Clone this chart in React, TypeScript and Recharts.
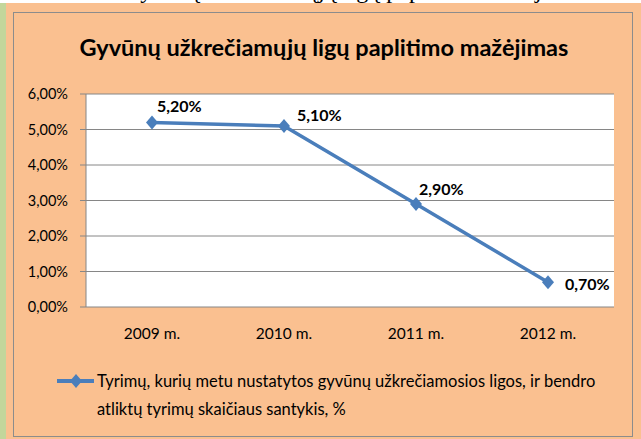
import { LineChart, Line, XAxis, YAxis, CartesianGrid, LabelList, Legend } from 'recharts'

const title = 'Gyvūnų užkrečiamųjų ligų paplitimo mažėjimas'
const seriesName =
  'Tyrimų, kurių metu nustatytos gyvūnų užkrečiamosios ligos, ir bendro atliktų tyrimų skaičiaus santykis, %'
const years = ['2009 m.', '2010 m.', '2011 m.', '2012 m.']
const shares = [0.052, 0.051, 0.029, 0.007]
const yTicks = [0, 0.01, 0.02, 0.03, 0.04, 0.05, 0.06]
const edgeTicks = [0, 1, 2, 3, 4]

// manual label nudges (Excel-style placement), per point: [dx, dy]
const labelNudge = [
  [5, -17],
  [13, -11],
  [3, -16],
  [17, 1],
]

const data = years.map((year, i) => ({ year, share: shares[i] }))

const FONT = 'Lato, "Open Sans", sans-serif'
const BLUE = '#4A7EBB'
const GRID = '#868686'
const PEACH = '#FAC090'

const pct = (v: number) => (v * 100).toFixed(2).replace('.', ',') + '%'

const Diamond = (props: any) => {
  const { cx, cy } = props
  if (cx == null || cy == null) return null
  return <polygon points={`${cx},${cy - 7} ${cx + 6},${cy} ${cx},${cy + 7} ${cx - 6},${cy}`} fill={BLUE} />
}

const DataLabel = (props: any) => {
  const { x, y, value, index } = props
  const [dx, dy] = labelNudge[index] || [0, -12]
  return (
    <text x={x + dx} y={y + dy} dominantBaseline="central" fontFamily={FONT} fontWeight={700} fontSize={16} fill="#000">
      {pct(value)}
    </text>
  )
}

const LegendBox = (props: any) => {
  const item = props.payload && props.payload[0]
  return (
    <div style={{ display: 'flex', alignItems: 'flex-start', fontFamily: FONT, fontSize: 16.5, color: '#000' }}>
      <svg width={40} height={28} style={{ flex: 'none' }}>
        <line x1={0} y1={14} x2={37} y2={14} stroke={BLUE} strokeWidth={4} />
        <polygon points="19,7 25,14 19,21 13,14" fill={BLUE} />
      </svg>
      <div style={{ width: 510, lineHeight: '28px' }}>{item ? item.value : seriesName}</div>
    </div>
  )
}

export default function App() {
  return (
    <div style={{ position: 'absolute', left: 0, top: 0, width: 641, height: 439, background: PEACH, overflow: 'hidden' }}>
      <div style={{ position: 'absolute', left: 0, top: 0, width: 641, height: 3, background: '#fff', overflow: 'hidden' }}>
        <div
          style={{
            position: 'absolute',
            left: 123,
            top: -24,
            fontFamily: '"Liberation Serif", serif',
            fontSize: 24,
            lineHeight: '28px',
            whiteSpace: 'nowrap',
          }}
        >
          {title}
        </div>
      </div>
      <div style={{ position: 'absolute', left: 0, top: 3, width: 6, height: 436, background: '#C3D69B' }} />
      <div
        style={{
          position: 'absolute',
          left: 13,
          top: 12,
          width: 620,
          height: 425,
          boxSizing: 'border-box',
          border: '1px solid #8C8C8C',
          background: PEACH,
        }}
      >
        <div
          style={{
            position: 'absolute',
            left: 0,
            top: 20,
            width: 620,
            textAlign: 'center',
            fontFamily: FONT,
            fontWeight: 700,
            fontSize: 23.5,
            color: '#000',
          }}
        >
          {title}
        </div>
        <div style={{ position: 'absolute', left: -1, top: -1 }}>
          <LineChart width={620} height={340} data={data} margin={{ top: 82, right: 19, left: 0, bottom: 0 }}>
            <CartesianGrid vertical={false} stroke={GRID} fill="#fff" />
            <XAxis
              xAxisId="edges"
              type="number"
              domain={[0, 4]}
              ticks={edgeTicks}
              tick={false}
              tickSize={5}
              height={0}
              stroke={GRID}
            />
            <XAxis
              dataKey="year"
              scale="band"
              axisLine={false}
              tickLine={false}
              tickMargin={15}
              height={45}
              tick={{ fill: '#000', fontSize: 15.5, fontFamily: FONT }}
            />
            <YAxis
              domain={[0, 0.06]}
              ticks={yTicks}
              tickFormatter={pct}
              width={73}
              tickSize={6}
              tickMargin={12}
              stroke={GRID}
              tick={{ fill: '#000', fontSize: 14.5, fontFamily: FONT }}
            />
            <Legend
              layout="horizontal"
              verticalAlign="middle"
              align="center"
              wrapperStyle={{ position: 'absolute', left: 44, top: 355, width: 560 }}
              content={LegendBox}
            />
            <Line
              dataKey="share"
              name={seriesName}
              stroke={BLUE}
              strokeWidth={3.5}
              dot={<Diamond />}
              activeDot={false}
              isAnimationActive={false}
            >
              <LabelList dataKey="share" content={DataLabel} />
            </Line>
          </LineChart>
        </div>
      </div>
    </div>
  )
}
